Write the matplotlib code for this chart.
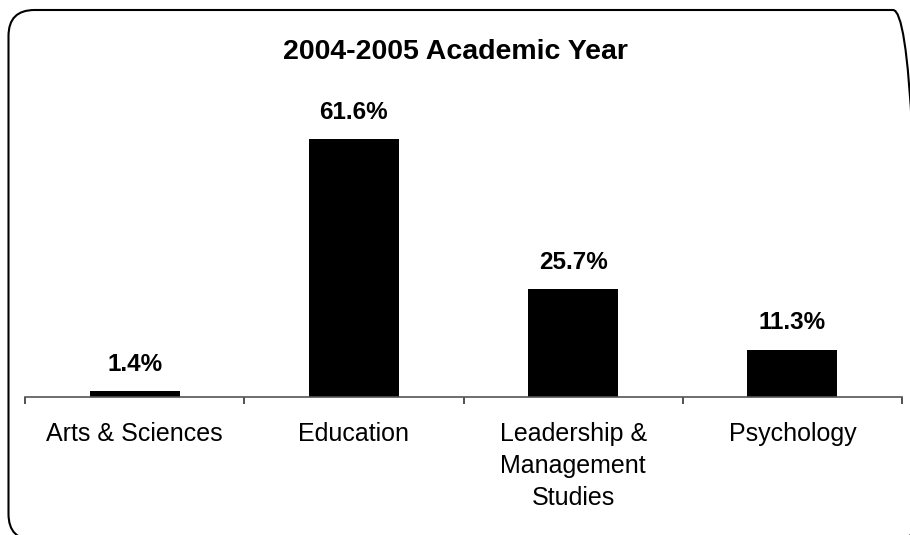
import matplotlib.pyplot as plt
from matplotlib.patches import FancyBboxPatch
from matplotlib.transforms import IdentityTransform

plt.rcParams['font.family'] = ['Liberation Sans', 'DejaVu Sans']

categories = ['Arts & Sciences', 'Education', 'Leadership &\nManagement\nStudies', 'Psychology']
values = [1.4, 61.6, 25.7, 11.3]
labels = ['1.4%', '61.6%', '25.7%', '11.3%']
title = '2004-2005 Academic Year'

W, H = 910, 535
fig = plt.figure(figsize=(W / 100, H / 100), dpi=100)

# rounded chart border in pixel units, runs slightly past the right and bottom edges
border = FancyBboxPatch((8.5, -5), 910.5, H - 10 + 5,
                        boxstyle='round,pad=0,rounding_size=26',
                        transform=IdentityTransform(), fill=False,
                        edgecolor='black', linewidth=1.5)
fig.patches.append(border)

ax = fig.add_axes([25 / W, (H - 397) / H, 877 / W, 293 / H])
x = range(len(values))
ax.bar(x, values, width=0.41, color='black')
for xi, v, lab in zip(x, values, labels):
    ax.annotate(lab, (xi, v), xytext=(0, 11), textcoords='offset points',
                ha='center', va='bottom', fontsize=17.5, fontweight='bold')

ax.set_xlim(-0.5, 3.5)
ax.set_ylim(0, 70)
ax.set_yticks([])
for s in ['top', 'right', 'left']:
    ax.spines[s].set_visible(False)
ax.spines['bottom'].set_color('#555555')
ax.spines['bottom'].set_linewidth(1.2)

ax.set_xticks([-0.5, 0.5, 1.5, 2.5, 3.5])
ax.set_xticklabels([])
ax.tick_params(axis='x', length=5, width=1.2, color='#333333')
ax.set_xticks(list(x), minor=True)
ax.set_xticklabels(categories, minor=True, fontsize=18, linespacing=1.42)
ax.tick_params(axis='x', which='minor', length=0, pad=18)

fig.text(455 / W, 1 - 52 / H, title, ha='center', va='center',
         fontsize=20.5, fontweight='bold')

fig.savefig('out.png', dpi=100)
